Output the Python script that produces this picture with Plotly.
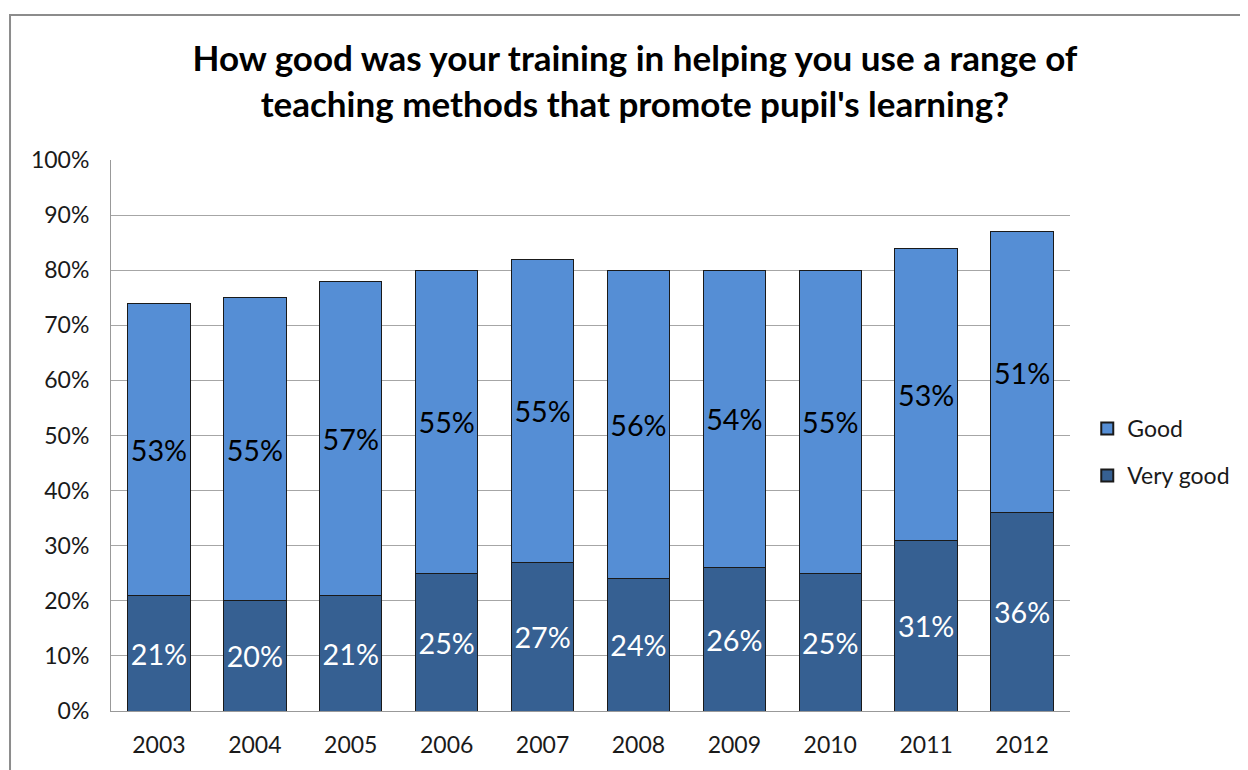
import plotly.graph_objects as go

years = ["2003", "2004", "2005", "2006", "2007", "2008", "2009", "2010", "2011", "2012"]
very_good = [21, 20, 21, 25, 27, 24, 26, 25, 31, 36]
good = [53, 55, 57, 55, 55, 56, 54, 55, 53, 51]

FONT = "Lato, 'Liberation Sans', sans-serif"

fig = go.Figure()
fig.add_trace(go.Bar(
    x=years, y=very_good, name="Very good", legendgroup="vg", legendrank=2,
    marker=dict(color="#366092", line=dict(color="#1a1a1a", width=1)),
    text=[f"{v}%" for v in very_good], textposition="inside",
    insidetextanchor="middle", textangle=0,
    textfont=dict(color="white", size=29, family=FONT),
))
fig.add_trace(go.Bar(
    x=years, y=good, name="Good", legendgroup="g", legendrank=1,
    marker=dict(color="#558ED5", line=dict(color="#1a1a1a", width=1)),
    text=[f"{v}%" for v in good], textposition="inside",
    insidetextanchor="middle", textangle=0,
    textfont=dict(color="black", size=29, family=FONT),
))

fig.update_layout(
    barmode="stack",
    bargap=0.35,
    width=1240, height=762,
    paper_bgcolor="white", plot_bgcolor="white",
    margin=dict(l=103, r=178, t=152, b=59),
    font=dict(family=FONT, color="#1a1a1a"),
    title=dict(
        text="How good was your training in helping you use a range of<br>teaching methods that promote pupil's learning?",
        x=0.5056, xanchor="center", y=0.917, yanchor="middle",
        font=dict(size=35, color="black", family=FONT, weight="bold"),
    ),
    xaxis=dict(
        showgrid=False, showline=True, linecolor="#999999", linewidth=1,
        ticks="", tickfont=dict(size=23), ticklabelstandoff=13,
    ),
    yaxis=dict(
        range=[0, 100], dtick=10, ticksuffix="%",
        showgrid=True, gridcolor="#a6a6a6", gridwidth=1,
        showline=True, linecolor="#999999", linewidth=1,
        tickfont=dict(size=23), zeroline=False, ticks="",
        ticklabelstandoff=16,
    ),
    legend=dict(
        x=1.018, y=0.47, xanchor="left", yanchor="middle",
        traceorder="grouped", font=dict(size=23),
        itemsizing="constant", tracegroupgap=14, itemwidth=30,
    ),
    showlegend=True,
)

fig.add_shape(
    type="rect", xref="paper", yref="paper",
    x0=-0.1053, x1=1.3, y0=-0.2, y1=1.263,
    line=dict(color="#8c8c8c", width=2), fillcolor="rgba(0,0,0,0)",
    layer="below",
)

fig.write_html("out.html")
